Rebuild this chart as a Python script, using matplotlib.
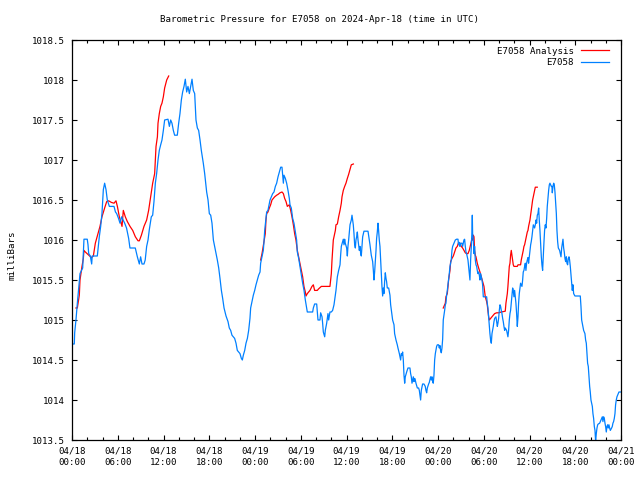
import numpy as np
import matplotlib
matplotlib.use("Agg")
import matplotlib.pyplot as plt
from matplotlib.ticker import MultipleLocator

# station observations: (hours after 2024-04-18 00:00 UTC, pressure mb)
blue_obs = [
    (0.0, 1014.70), (0.3, 1014.70), (0.35, 1014.84), (0.52, 1015.00), (0.7, 1015.21),
    (1.05, 1015.58), (1.4, 1015.65), (1.57, 1016.01), (2.0, 1016.01), (2.1, 1015.94),
    (2.19, 1015.83), (2.4, 1015.80), (2.58, 1015.70), (2.65, 1015.80), (3.32, 1015.80),
    (3.58, 1016.04), (3.76, 1016.17), (3.93, 1016.33), (4.11, 1016.63), (4.28, 1016.71),
    (4.46, 1016.63), (4.63, 1016.50), (4.9, 1016.42), (5.51, 1016.42), (5.7, 1016.35),
    (5.86, 1016.33), (6.1, 1016.27), (6.3, 1016.21), (6.51, 1016.29), (6.7, 1016.25),
    (6.91, 1016.21), (7.15, 1016.15), (7.43, 1016.02), (7.6, 1015.90), (8.3, 1015.90),
    (8.57, 1015.79), (8.83, 1015.70), (9.0, 1015.79), (9.18, 1015.70), (9.44, 1015.70),
    (9.6, 1015.75), (9.79, 1015.92), (9.97, 1016.00), (10.14, 1016.13), (10.4, 1016.29),
    (10.58, 1016.31), (10.75, 1016.48), (10.93, 1016.71), (11.1, 1016.83), (11.28, 1017.00),
    (11.45, 1017.12), (11.63, 1017.19), (11.8, 1017.25), (11.98, 1017.37), (12.15, 1017.50),
    (12.59, 1017.51), (12.77, 1017.42), (12.94, 1017.50), (13.11, 1017.46), (13.29, 1017.37),
    (13.46, 1017.31), (13.81, 1017.31), (13.99, 1017.46), (14.16, 1017.58), (14.34, 1017.75),
    (14.51, 1017.85), (14.69, 1017.92), (14.86, 1018.01), (15.04, 1017.85), (15.21, 1017.92),
    (15.39, 1017.83), (15.56, 1017.92), (15.74, 1018.01), (15.91, 1017.87), (16.09, 1017.83),
    (16.26, 1017.50), (16.44, 1017.40), (16.61, 1017.37), (16.79, 1017.25), (16.96, 1017.12),
    (17.22, 1016.96), (17.4, 1016.83), (17.66, 1016.60), (17.84, 1016.50), (18.01, 1016.33),
    (18.19, 1016.31), (18.36, 1016.21), (18.54, 1016.00), (18.71, 1015.92), (18.89, 1015.83),
    (19.06, 1015.75), (19.24, 1015.65), (19.41, 1015.52), (19.59, 1015.37), (19.76, 1015.27),
    (19.94, 1015.15), (20.2, 1015.05), (20.46, 1014.98), (20.63, 1014.90), (20.81, 1014.87),
    (20.98, 1014.81), (21.16, 1014.79), (21.33, 1014.77), (21.51, 1014.71), (21.68, 1014.62),
    (21.86, 1014.60), (22.03, 1014.58), (22.21, 1014.52), (22.34, 1014.50), (22.47, 1014.56),
    (22.65, 1014.62), (22.82, 1014.71), (23.0, 1014.77), (23.17, 1014.87), (23.34, 1015.02),
    (23.43, 1015.15), (23.61, 1015.23), (23.78, 1015.31), (23.96, 1015.37), (24.13, 1015.44),
    (24.31, 1015.50), (24.48, 1015.56), (24.66, 1015.60), (24.74, 1015.71), (24.92, 1015.79),
    (25.09, 1015.87), (25.18, 1015.98), (25.27, 1016.12), (25.44, 1016.27), (25.53, 1016.35),
    (25.7, 1016.37), (25.88, 1016.46), (25.97, 1016.50), (26.14, 1016.54), (26.32, 1016.58),
    (26.49, 1016.60), (26.67, 1016.67), (26.84, 1016.71), (27.02, 1016.79), (27.19, 1016.85),
    (27.37, 1016.91), (27.54, 1016.91), (27.63, 1016.81), (27.72, 1016.71), (27.8, 1016.81),
    (27.98, 1016.77), (28.15, 1016.71), (28.33, 1016.62), (28.5, 1016.52), (28.59, 1016.44),
    (28.76, 1016.40), (28.94, 1016.27), (29.11, 1016.21), (29.29, 1016.10), (29.46, 1016.00),
    (29.55, 1015.85), (29.73, 1015.77), (29.9, 1015.67), (30.08, 1015.56), (30.25, 1015.46),
    (30.43, 1015.37), (30.6, 1015.25), (30.78, 1015.15), (30.86, 1015.10), (31.56, 1015.10),
    (31.65, 1015.15), (31.82, 1015.20), (32.09, 1015.20), (32.17, 1015.11), (32.26, 1015.00),
    (32.52, 1015.00), (32.61, 1015.09), (32.79, 1015.04), (32.87, 1014.96), (32.96, 1014.85),
    (33.14, 1014.79), (33.22, 1014.87), (33.4, 1014.96), (33.57, 1015.08), (33.66, 1015.00),
    (33.83, 1015.10), (34.01, 1015.10), (34.18, 1015.12), (34.36, 1015.19), (34.45, 1015.25),
    (34.62, 1015.37), (34.71, 1015.46), (34.8, 1015.54), (34.97, 1015.62), (35.15, 1015.69),
    (35.23, 1015.81), (35.32, 1015.92), (35.5, 1015.98), (35.58, 1016.01), (35.67, 1015.94),
    (35.76, 1016.01), (35.84, 1015.96), (36.02, 1015.90), (36.11, 1015.80), (36.19, 1015.92),
    (36.28, 1016.00), (36.37, 1016.10), (36.46, 1016.19), (36.63, 1016.25), (36.72, 1016.31),
    (36.81, 1016.25), (36.89, 1016.19), (36.98, 1016.08), (37.07, 1015.94), (37.16, 1015.90),
    (37.24, 1016.00), (37.33, 1016.04), (37.42, 1016.10), (37.51, 1016.00), (37.59, 1015.94),
    (37.68, 1015.87), (37.77, 1015.92), (37.86, 1015.83), (37.94, 1015.80), (38.03, 1015.92),
    (38.12, 1016.04), (38.21, 1016.08), (38.29, 1016.11), (38.82, 1016.11), (38.9, 1016.06),
    (38.99, 1016.00), (39.08, 1015.94), (39.17, 1015.87), (39.25, 1015.81), (39.43, 1015.73),
    (39.52, 1015.62), (39.6, 1015.50), (39.69, 1015.60), (39.78, 1015.73), (39.87, 1015.87),
    (39.95, 1016.02), (40.04, 1016.10), (40.13, 1016.21), (40.21, 1016.12), (40.3, 1016.00),
    (40.39, 1015.92), (40.48, 1015.75), (40.56, 1015.60), (40.65, 1015.42), (40.74, 1015.30),
    (40.83, 1015.40), (40.91, 1015.33), (41.0, 1015.48), (41.09, 1015.59), (41.18, 1015.52),
    (41.26, 1015.48), (41.35, 1015.40), (41.53, 1015.40), (41.7, 1015.31), (41.79, 1015.19),
    (41.96, 1015.06), (42.05, 1015.00), (42.23, 1014.94), (42.31, 1014.83), (42.49, 1014.75),
    (42.66, 1014.69), (42.75, 1014.65), (42.93, 1014.58), (43.01, 1014.54), (43.1, 1014.50),
    (43.19, 1014.58), (43.28, 1014.56), (43.36, 1014.60), (43.45, 1014.50), (43.54, 1014.31),
    (43.63, 1014.21), (43.71, 1014.29), (43.89, 1014.35), (44.06, 1014.40), (44.32, 1014.40),
    (44.41, 1014.33), (44.5, 1014.29), (44.59, 1014.21), (44.67, 1014.25), (44.76, 1014.29),
    (44.85, 1014.23), (44.94, 1014.27), (45.02, 1014.25), (45.11, 1014.21), (45.29, 1014.15),
    (45.46, 1014.15), (45.55, 1014.12), (45.64, 1014.06), (45.72, 1014.00), (45.81, 1014.12),
    (45.98, 1014.20), (46.16, 1014.20), (46.33, 1014.17), (46.42, 1014.12), (46.51, 1014.09),
    (46.6, 1014.15), (46.77, 1014.20), (46.86, 1014.22), (46.95, 1014.26), (47.03, 1014.29),
    (47.12, 1014.25), (47.21, 1014.29), (47.3, 1014.23), (47.38, 1014.21), (47.47, 1014.31),
    (47.56, 1014.50), (47.65, 1014.58), (47.73, 1014.62), (47.82, 1014.67), (47.91, 1014.69),
    (48.08, 1014.69), (48.17, 1014.65), (48.26, 1014.68), (48.34, 1014.62), (48.43, 1014.59),
    (48.52, 1014.65), (48.61, 1014.76), (48.69, 1015.00), (48.78, 1015.06), (48.87, 1015.12),
    (48.96, 1015.19), (49.04, 1015.21), (49.13, 1015.31), (49.22, 1015.37), (49.31, 1015.44),
    (49.39, 1015.50), (49.48, 1015.58), (49.57, 1015.67), (49.66, 1015.71), (49.74, 1015.75),
    (49.83, 1015.87), (49.92, 1015.92), (50.09, 1015.96), (50.27, 1016.00), (50.44, 1016.01),
    (50.62, 1016.01), (50.7, 1015.94), (50.79, 1015.97), (50.88, 1015.92), (50.97, 1015.96),
    (51.14, 1015.96), (51.23, 1015.92), (51.32, 1015.96), (51.4, 1016.00), (51.49, 1016.01),
    (51.58, 1015.92), (51.67, 1015.85), (51.75, 1015.83), (51.84, 1015.79), (51.93, 1015.75),
    (52.01, 1015.67), (52.1, 1015.58), (52.19, 1015.50), (52.28, 1015.75), (52.37, 1015.92),
    (52.45, 1016.10), (52.5, 1016.31), (52.54, 1016.08), (52.63, 1016.00), (52.72, 1015.83),
    (52.8, 1015.92), (52.89, 1015.75), (52.98, 1015.69), (53.07, 1015.67), (53.15, 1015.62),
    (53.24, 1015.58), (53.33, 1015.60), (53.42, 1015.56), (53.5, 1015.50), (53.59, 1015.58),
    (53.68, 1015.54), (53.77, 1015.50), (53.85, 1015.44), (53.94, 1015.29), (54.38, 1015.29),
    (54.46, 1015.21), (54.55, 1015.15), (54.64, 1015.04), (54.73, 1014.92), (54.81, 1014.83),
    (54.9, 1014.75), (54.99, 1014.71), (55.08, 1014.83), (55.16, 1014.87), (55.25, 1014.92),
    (55.34, 1014.98), (55.43, 1015.02), (55.6, 1015.04), (55.69, 1014.98), (55.78, 1014.92),
    (55.86, 1014.96), (55.95, 1015.02), (56.04, 1015.12), (56.13, 1015.19), (56.21, 1015.17),
    (56.3, 1015.12), (56.39, 1015.08), (56.48, 1015.02), (56.56, 1014.98), (56.65, 1014.92),
    (56.74, 1014.87), (56.82, 1014.90), (57.0, 1014.87), (57.09, 1014.83), (57.17, 1014.79),
    (57.26, 1014.87), (57.35, 1015.00), (57.44, 1015.08), (57.52, 1015.12), (57.61, 1015.21),
    (57.7, 1015.29), (57.79, 1015.40), (57.87, 1015.37), (57.96, 1015.29), (58.05, 1015.37),
    (58.14, 1015.29), (58.22, 1015.21), (58.31, 1015.08), (58.4, 1014.92), (58.49, 1015.04),
    (58.57, 1015.21), (58.66, 1015.33), (58.75, 1015.40), (58.83, 1015.46), (58.92, 1015.44),
    (59.01, 1015.42), (59.1, 1015.50), (59.18, 1015.60), (59.27, 1015.62), (59.36, 1015.67),
    (59.45, 1015.71), (59.53, 1015.62), (59.62, 1015.71), (59.71, 1015.75), (59.8, 1015.78),
    (59.88, 1015.71), (59.97, 1015.79), (60.06, 1015.87), (60.15, 1015.94), (60.23, 1015.98),
    (60.32, 1016.04), (60.41, 1016.12), (60.5, 1016.19), (60.58, 1016.17), (60.67, 1016.15),
    (60.76, 1016.19), (60.85, 1016.25), (60.94, 1016.21), (61.02, 1016.31), (61.11, 1016.33),
    (61.2, 1016.40), (61.28, 1016.25), (61.37, 1016.12), (61.46, 1015.96), (61.55, 1015.79),
    (61.63, 1015.69), (61.72, 1015.62), (61.81, 1015.81), (61.9, 1015.98), (61.98, 1016.12),
    (62.07, 1016.19), (62.16, 1016.15), (62.25, 1016.27), (62.33, 1016.42), (62.42, 1016.52),
    (62.51, 1016.62), (62.6, 1016.69), (62.68, 1016.71), (62.77, 1016.69), (62.86, 1016.67),
    (62.94, 1016.67), (62.99, 1016.59), (63.08, 1016.67), (63.17, 1016.71), (63.25, 1016.69),
    (63.34, 1016.60), (63.43, 1016.46), (63.52, 1016.33), (63.6, 1016.12), (63.69, 1015.98),
    (63.78, 1015.90), (63.95, 1015.87), (64.13, 1015.79), (64.22, 1015.90), (64.39, 1016.01),
    (64.48, 1015.90), (64.56, 1015.85), (64.65, 1015.77), (64.74, 1015.73), (64.83, 1015.79),
    (64.91, 1015.71), (65.0, 1015.69), (65.09, 1015.77), (65.18, 1015.79), (65.26, 1015.75),
    (65.35, 1015.67), (65.44, 1015.56), (65.53, 1015.46), (65.61, 1015.37), (65.7, 1015.44),
    (65.79, 1015.33), (65.96, 1015.30), (66.66, 1015.30), (66.75, 1015.17), (66.84, 1015.00),
    (66.92, 1014.96), (67.01, 1014.92), (67.1, 1014.87), (67.27, 1014.83), (67.36, 1014.75),
    (67.45, 1014.71), (67.54, 1014.58), (67.62, 1014.46), (67.71, 1014.42), (67.8, 1014.29),
    (67.89, 1014.17), (67.97, 1014.10), (68.06, 1014.00), (68.15, 1013.96), (68.24, 1013.92),
    (68.32, 1013.83), (68.41, 1013.77), (68.5, 1013.67), (68.59, 1013.62), (68.67, 1013.48),
    (68.76, 1013.58), (68.85, 1013.65), (68.94, 1013.69), (69.02, 1013.70), (69.2, 1013.71),
    (69.37, 1013.75), (69.55, 1013.79), (69.63, 1013.73), (69.72, 1013.79), (69.81, 1013.77),
    (69.9, 1013.71), (69.98, 1013.67), (70.07, 1013.60), (70.16, 1013.67), (70.25, 1013.69),
    (70.33, 1013.65), (70.42, 1013.69), (70.51, 1013.65), (70.6, 1013.62), (70.77, 1013.65),
    (70.86, 1013.67), (70.94, 1013.71), (71.03, 1013.73), (71.12, 1013.77), (71.21, 1013.83),
    (71.29, 1013.94), (71.38, 1014.00), (71.47, 1014.04), (71.56, 1014.06), (71.64, 1014.08),
    (71.73, 1014.10), (72.0, 1014.10),
]

# analysis runs (three separate pieces)
red_run1 = [
    (0.52, 1015.15), (0.7, 1015.15), (0.96, 1015.31), (1.05, 1015.50), (1.31, 1015.67),
    (1.49, 1015.77), (1.57, 1015.87), (1.75, 1015.85), (2.19, 1015.81), (2.54, 1015.78),
    (2.8, 1015.80), (3.06, 1015.96), (3.41, 1016.08), (3.67, 1016.17), (3.93, 1016.29),
    (4.28, 1016.40), (4.55, 1016.48), (4.81, 1016.49), (5.16, 1016.47), (5.51, 1016.46),
    (5.77, 1016.49), (5.95, 1016.42), (6.21, 1016.29), (6.56, 1016.17), (6.73, 1016.37),
    (6.99, 1016.29), (7.26, 1016.23), (7.61, 1016.17), (7.96, 1016.12), (8.31, 1016.04),
    (8.66, 1015.99), (8.83, 1015.99), (9.1, 1016.06), (9.44, 1016.17), (9.79, 1016.25),
    (10.05, 1016.37), (10.32, 1016.54), (10.58, 1016.71), (10.84, 1016.83), (10.93, 1017.00),
    (11.02, 1017.17), (11.2, 1017.29), (11.28, 1017.46), (11.45, 1017.58), (11.63, 1017.67),
    (11.8, 1017.71), (11.98, 1017.79), (12.15, 1017.90), (12.42, 1018.00), (12.68, 1018.05),
]
red_run2 = [
    (24.74, 1015.75), (24.92, 1015.83), (25.18, 1015.98), (25.35, 1016.08), (25.44, 1016.25),
    (25.53, 1016.33), (25.7, 1016.35), (25.88, 1016.40), (26.05, 1016.44), (26.23, 1016.50),
    (26.4, 1016.52), (26.58, 1016.54), (26.84, 1016.56), (27.02, 1016.57), (27.28, 1016.59),
    (27.54, 1016.60), (27.72, 1016.58), (27.89, 1016.52), (28.07, 1016.48), (28.24, 1016.42),
    (28.5, 1016.44), (28.68, 1016.37), (28.85, 1016.29), (29.03, 1016.19), (29.2, 1016.08),
    (29.37, 1016.00), (29.55, 1015.87), (29.72, 1015.79), (29.9, 1015.71), (30.07, 1015.62),
    (30.25, 1015.54), (30.42, 1015.42), (30.6, 1015.35), (30.69, 1015.30), (30.86, 1015.33),
    (31.21, 1015.37), (31.47, 1015.42), (31.65, 1015.44), (31.82, 1015.37), (32.0, 1015.37),
    (32.17, 1015.37), (32.35, 1015.39), (32.7, 1015.42), (33.3, 1015.42), (33.83, 1015.42),
    (33.92, 1015.50), (34.01, 1015.58), (34.1, 1015.75), (34.18, 1015.87), (34.27, 1016.00),
    (34.45, 1016.08), (34.54, 1016.12), (34.62, 1016.19), (34.8, 1016.20), (34.97, 1016.29),
    (35.15, 1016.37), (35.32, 1016.46), (35.41, 1016.54), (35.58, 1016.62), (35.76, 1016.67),
    (35.93, 1016.71), (36.11, 1016.77), (36.28, 1016.82), (36.46, 1016.88), (36.63, 1016.94),
    (36.9, 1016.95),
]
red_run3 = [
    (48.69, 1015.15), (48.87, 1015.19), (48.96, 1015.21), (49.04, 1015.29), (49.22, 1015.33),
    (49.31, 1015.42), (49.39, 1015.50), (49.48, 1015.56), (49.57, 1015.62), (49.66, 1015.73),
    (49.83, 1015.77), (50.01, 1015.80), (50.18, 1015.85), (50.35, 1015.90), (50.53, 1015.92),
    (50.7, 1015.97), (50.88, 1015.96), (51.05, 1015.92), (51.23, 1015.90), (51.4, 1015.87),
    (51.58, 1015.84), (51.75, 1015.83), (51.93, 1015.83), (52.1, 1015.87), (52.28, 1015.94),
    (52.37, 1015.98), (52.45, 1016.02), (52.54, 1016.00), (52.63, 1016.06), (52.72, 1016.04),
    (52.8, 1015.87), (52.89, 1015.81), (52.98, 1015.79), (53.15, 1015.71), (53.33, 1015.65),
    (53.5, 1015.60), (53.68, 1015.54), (53.85, 1015.48), (54.03, 1015.42), (54.12, 1015.35),
    (54.2, 1015.29), (54.38, 1015.23), (54.46, 1015.19), (54.55, 1015.12), (54.64, 1015.04),
    (54.73, 1015.00), (54.9, 1015.02), (55.08, 1015.04), (55.25, 1015.06), (55.43, 1015.08),
    (55.69, 1015.09), (55.95, 1015.09), (56.3, 1015.10), (56.82, 1015.11), (56.91, 1015.21),
    (57.0, 1015.27), (57.09, 1015.33), (57.17, 1015.42), (57.26, 1015.54), (57.35, 1015.67),
    (57.44, 1015.71), (57.52, 1015.81), (57.61, 1015.87), (57.7, 1015.81), (57.79, 1015.75),
    (57.87, 1015.69), (57.96, 1015.67), (58.4, 1015.67), (58.49, 1015.69), (58.83, 1015.69),
    (58.92, 1015.75), (59.01, 1015.79), (59.1, 1015.83), (59.18, 1015.87), (59.27, 1015.92),
    (59.36, 1015.94), (59.45, 1015.98), (59.53, 1016.02), (59.62, 1016.06), (59.71, 1016.10),
    (59.8, 1016.12), (59.88, 1016.17), (59.97, 1016.21), (60.06, 1016.25), (60.15, 1016.31),
    (60.23, 1016.37), (60.32, 1016.44), (60.41, 1016.50), (60.5, 1016.54), (60.58, 1016.58),
    (60.67, 1016.62), (60.76, 1016.66), (61.02, 1016.66),
]

tick_hours = list(range(0, 73, 6))
tick_labels = ["04/18\n00:00", "04/18\n06:00", "04/18\n12:00", "04/18\n18:00",
               "04/19\n00:00", "04/19\n06:00", "04/19\n12:00", "04/19\n18:00",
               "04/20\n00:00", "04/20\n06:00", "04/20\n12:00", "04/20\n18:00",
               "04/21\n00:00"]

plt.rcParams['font.family'] = 'DejaVu Sans Mono'
plt.rcParams['font.size'] = 6.6

fig = plt.figure(figsize=(6.4, 4.8), dpi=100)
ax = fig.add_axes([72/640, 40/480, 549/640, 400/480])

# join the analysis runs with gaps between them
red_h, red_p = [], []
for run in (red_run1, red_run2, red_run3):
    h, p = zip(*run)
    red_h += list(h) + [np.nan]
    red_p += list(p) + [np.nan]
blue_h, blue_p = zip(*blue_obs)

ax.plot(red_h, red_p, color='#ff0000', lw=0.9, label='E7058 Analysis')
ax.plot(blue_h, blue_p, color='#0080ff', lw=0.9, label='E7058')

ax.set_xlim(0, 72)
ax.set_ylim(1013.5, 1018.5)
ax.set_xticks(tick_hours)
ax.set_xticklabels(tick_labels, linespacing=1.3)
ax.xaxis.set_minor_locator(MultipleLocator(2))
ax.yaxis.set_major_locator(MultipleLocator(0.5))
ax.yaxis.set_major_formatter(plt.FuncFormatter(lambda v, pos: ('%g' % v)))
ax.tick_params(which='both', direction='in', top=True, right=True, width=0.8)
ax.tick_params(which='major', length=3.5)
ax.tick_params(which='minor', length=2)
ax.tick_params(axis='x', pad=5)
ax.tick_params(axis='y', pad=5)
for s in ax.spines.values():
    s.set_linewidth(0.9)

fig.text(0.5, 1 - 19/480, 'Barometric Pressure for E7058 on 2024-Apr-18 (time in UTC)',
         ha='center', va='center')
fig.text(12/640, 1 - 255/480, 'milliBars', rotation=90, ha='center', va='center')

ax.legend(loc='upper right', bbox_to_anchor=(1 - 7/549, 1 - 1/400), frameon=False,
          markerfirst=False, handlelength=3.0, handletextpad=0.8, labelspacing=0.3,
          borderaxespad=0.4, borderpad=0.2)

fig.savefig('out.png', dpi=100)
